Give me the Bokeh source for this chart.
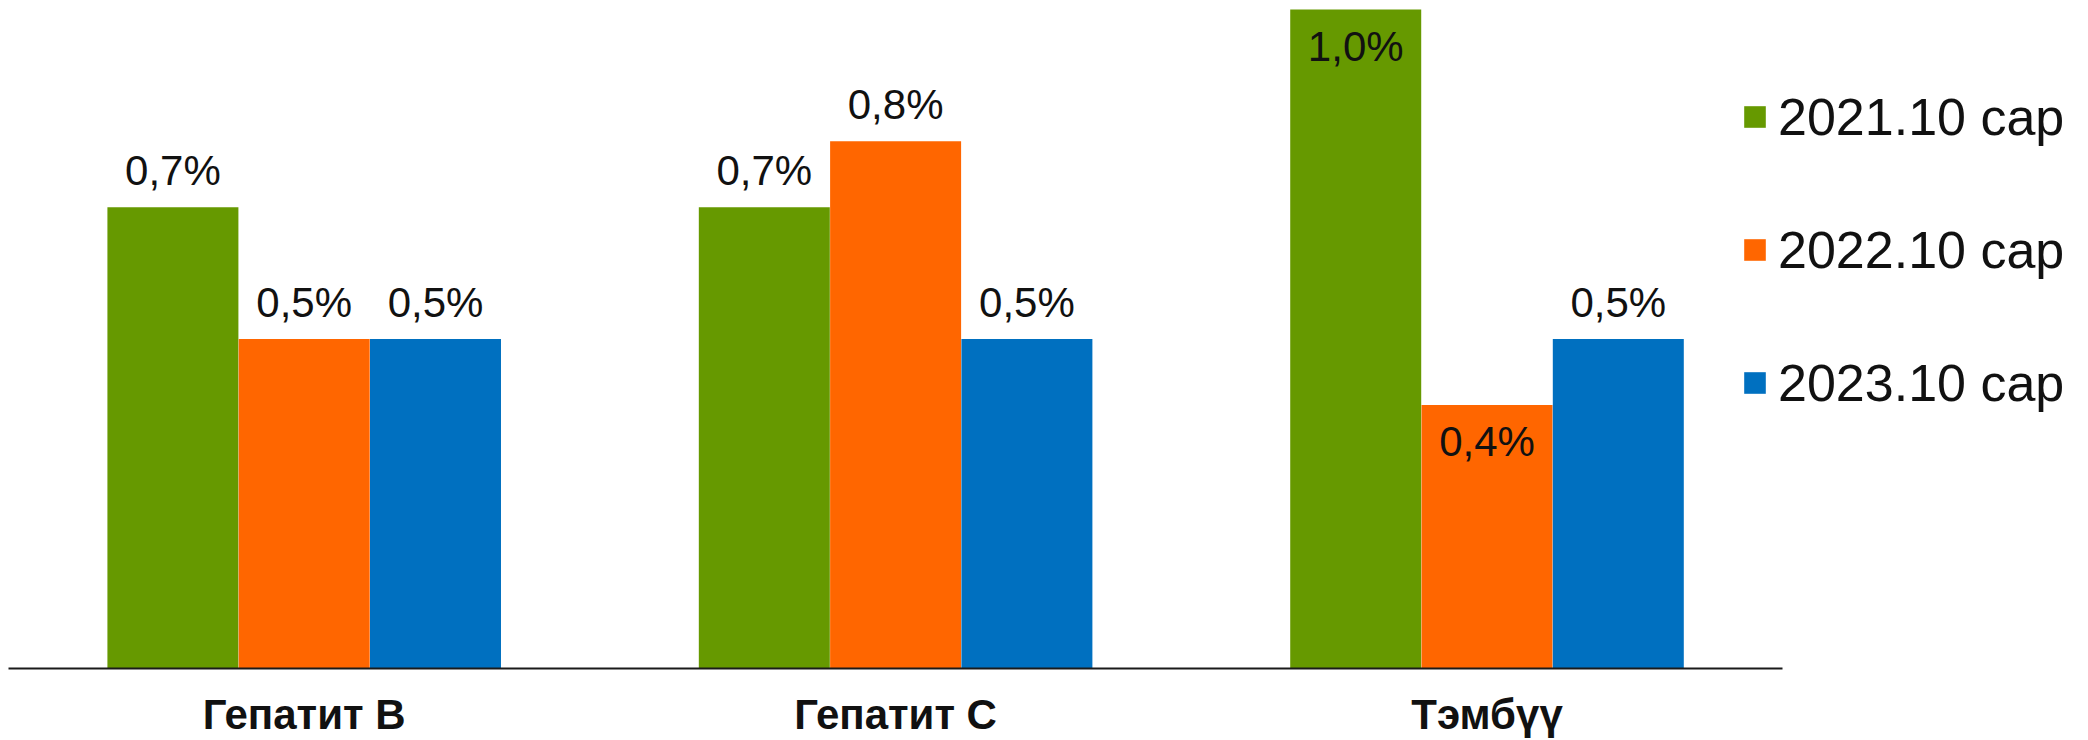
from bokeh.plotting import figure
from bokeh.models import ColumnDataSource, Range1d, Legend, LegendItem, FixedTicker
from bokeh.core.properties import value
from bokeh.embed import file_html
from bokeh.resources import INLINE

categories = ["Гепатит B", "Гепатит C", "Тэмбүү"]
series_names = ["2021.10 сар", "2022.10 сар", "2023.10 сар"]
values_2021 = [0.7, 0.7, 1.0]
values_2022 = [0.5, 0.8, 0.4]
values_2023 = [0.5, 0.5, 0.5]
labels_2021 = ["0,7%", "0,7%", "1,0%"]
labels_2022 = ["0,5%", "0,8%", "0,4%"]
labels_2023 = ["0,5%", "0,5%", "0,5%"]
placement_2021 = ["above", "above", "inside"]
placement_2022 = ["above", "above", "inside"]
placement_2023 = ["above", "above", "above"]

colors = ["#669900", "#FF6600", "#0070C0"]
offsets = [-0.222, 0.0, 0.222]
bar_w = 0.2215
yoff_map = {"above": -37, "inside": 37}

centers = [i + 0.5 for i in range(len(categories))]

p = figure(x_range=Range1d(0, 3.490), y_range=Range1d(0, 1.0137),
           width=2072, height=740,
           output_backend="svg", toolbar_location=None,
           min_border_left=8, min_border_right=0,
           min_border_top=0, min_border_bottom=60)

p.yaxis.visible = False
p.xgrid.grid_line_color = None
p.ygrid.grid_line_color = None
p.outline_line_color = None
p.background_fill_color = "white"
p.border_fill_color = "white"

ax = p.xaxis[0]
ax.ticker = FixedTicker(ticks=centers)
ax.major_label_overrides = {c: name for c, name in zip(centers, categories)}
ax.bounds = (0, len(categories))
ax.axis_line_color = "#1a1a1a"
ax.axis_line_width = 2
ax.major_tick_line_color = None
ax.minor_tick_line_color = None
ax.major_tick_out = 0
ax.major_tick_in = 0
ax.minor_tick_out = 0
ax.major_label_text_font = "Liberation Sans"
ax.major_label_text_font_style = "bold"
ax.major_label_text_font_size = "42px"
ax.major_label_text_color = "#111111"
ax.major_label_standoff = 22

series = [(values_2021, labels_2021, placement_2021),
          (values_2022, labels_2022, placement_2022),
          (values_2023, labels_2023, placement_2023)]

items = []
for (vals, labs, plc), name, col, off in zip(series, series_names, colors, offsets):
    src = ColumnDataSource(dict(x=[c + off for c in centers], val=vals, lab=labs,
                                yoff=[yoff_map[k] for k in plc]))
    r = p.vbar(x="x", top="val", width=bar_w,
               source=src, fill_color=col, line_color=None)
    p.text(x="x", y="val", text="lab",
           y_offset="yoff", source=src, text_align="center",
           text_baseline="alphabetic", text_font=value("Liberation Sans"),
           text_font_size="42px", text_color="#111111")
    items.append(LegendItem(label=name, renderers=[r]))

legend = Legend(items=items, location=(1733, 255), orientation="vertical",
                glyph_width=27, glyph_height=27, label_height=61,
                label_text_font="Liberation Sans", label_text_font_size="52px",
                label_text_color="#111111", label_standoff=10, spacing=72,
                padding=0, margin=0, border_line_color=None,
                background_fill_alpha=0)
p.add_layout(legend)

open("out.html", "w").write(file_html(p, INLINE))
